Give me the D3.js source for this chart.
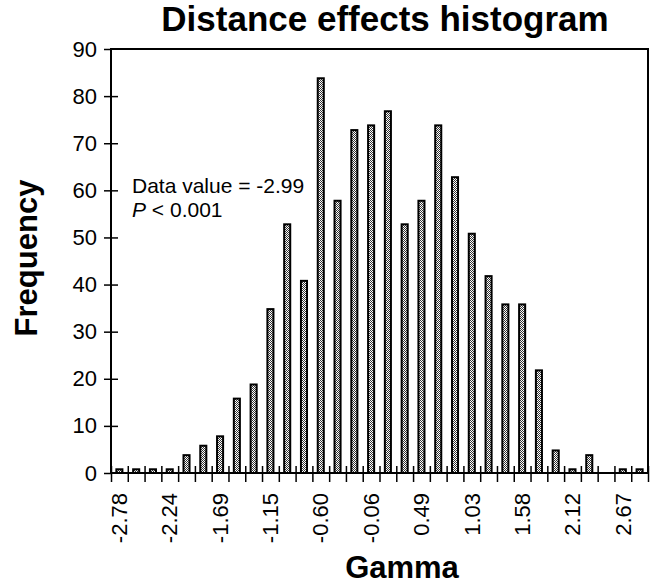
<!DOCTYPE html>
<html>
<head>
<meta charset="utf-8">
<script src="https://cdn.jsdelivr.net/npm/d3@7"></script>
<style>
  html, body { margin: 0; padding: 0; background: #fff; }
  svg text { font-family: "Liberation Sans", Arial, Helvetica, sans-serif; fill: #000; }
</style>
</head>
<body>
<svg id="chart" width="658" height="585"></svg>
<script>
// ---- data ----
const binCounts = [1,1,1,1,4,6,8,16,19,35,53,41,84,58,73,74,77,53,58,74,63,51,42,36,36,22,5,1,4,0,1,1];
const xTickLabels = ["-2.78","-2.24","-1.69","-1.15","-0.60","-0.06","0.49","1.03","1.58","2.12","2.67"];
const xTickEvery = 3;
const yTickValues = [0,10,20,30,40,50,60,70,80,90];
const titleText = "Distance effects histogram";
const xTitle = "Gamma";
const yTitle = "Frequency";
const noteLine1 = "Data value = -2.99";

// ---- layout ----
const L = 111, R = 648, T = 49, B = 473;
const svg = d3.select("#chart");

const defs = svg.append("defs");
const pat = defs.append("pattern").attr("id", "hatch")
  .attr("width", 2).attr("height", 2).attr("patternUnits", "userSpaceOnUse");
pat.append("rect").attr("width", 2).attr("height", 2).attr("fill", "#fff");
pat.append("rect").attr("x", 0).attr("y", 0).attr("width", 1).attr("height", 1).attr("fill", "#333");
pat.append("rect").attr("x", 1).attr("y", 1).attr("width", 1).attr("height", 1).attr("fill", "#333");

const idx = d3.range(binCounts.length);
const xBand = d3.scaleBand().domain(idx).range([L, R]).paddingInner(0.52).paddingOuter(0.26);
const xEdge = d3.scaleLinear().domain([0, binCounts.length]).range([L, R]);
const y = d3.scaleLinear().domain([0, 90]).range([B, T]);

// bars
svg.append("g").selectAll("rect").data(binCounts).join("rect")
  .attr("x", (d, i) => xBand(i) + 1)
  .attr("width", xBand.bandwidth() - 2)
  .attr("y", d => y(d) + 1)
  .attr("height", d => Math.max(0, y(0) - y(d) - 1))
  .attr("fill", "url(#hatch)")
  .attr("stroke", "#000")
  .attr("stroke-width", 2)
  .style("display", d => d > 0 ? null : "none");

// frame
svg.append("rect").attr("x", L).attr("y", T).attr("width", R - L).attr("height", B - T)
  .attr("fill", "none").attr("stroke", "#000").attr("stroke-width", 2);

// y axis (outer ticks with labels + inner ticks)
const yAxis = svg.append("g").attr("transform", `translate(${L},0)`)
  .call(d3.axisLeft(y).tickValues(yTickValues).tickSize(7).tickPadding(7).tickFormat(d3.format("d")));
yAxis.select(".domain").remove();
yAxis.selectAll("line").attr("stroke", "#000").attr("stroke-width", 1.5);
yAxis.selectAll("text").style("font-size", "22px");
const yAxisIn = svg.append("g").attr("transform", `translate(${L},0)`)
  .call(d3.axisRight(y).tickValues(yTickValues.filter(v => v > 0 && v < 90)).tickSize(7).tickFormat(""));
yAxisIn.select(".domain").remove();
yAxisIn.selectAll("line").attr("stroke", "#000").attr("stroke-width", 1.5);

// x axis ticks at bin edges (cross ticks)
const xAxisOut = svg.append("g").attr("transform", `translate(0,${B})`)
  .call(d3.axisBottom(xEdge).tickValues(d3.range(binCounts.length + 1)).tickSize(9).tickFormat(""));
xAxisOut.select(".domain").remove();
xAxisOut.selectAll("line").attr("stroke", "#000").attr("stroke-width", 1.5);
const xAxisIn = svg.append("g").attr("transform", `translate(0,${B})`)
  .call(d3.axisTop(xEdge).tickValues(d3.range(binCounts.length + 1)).tickSize(7).tickFormat(""));
xAxisIn.select(".domain").remove();
xAxisIn.selectAll("line").attr("stroke", "#000").attr("stroke-width", 1.5);

// x tick labels (rotated)
svg.append("g").selectAll("text").data(xTickLabels).join("text")
  .attr("transform", (d, k) => `translate(${xBand(k * xTickEvery) + xBand.bandwidth() / 2},493) rotate(-90)`)
  .attr("text-anchor", "end")
  .attr("dy", "0.35em")
  .style("font-size", "22px")
  .text(d => d);

// titles
svg.append("text").attr("x", 385).attr("y", 31).attr("text-anchor", "middle")
  .style("font-size", "35px").style("font-weight", "bold").text(titleText);
svg.append("text").attr("x", 402).attr("y", 578).attr("text-anchor", "middle")
  .style("font-size", "31px").style("font-weight", "bold").text(xTitle);
svg.append("text").attr("transform", "translate(37,258) rotate(-90)").attr("text-anchor", "middle")
  .style("font-size", "31px").style("font-weight", "bold").text(yTitle);

// annotation
svg.append("text").attr("x", 132).attr("y", 193).style("font-size", "21px").text(noteLine1);
const n2 = svg.append("text").attr("x", 132).attr("y", 217).style("font-size", "21px");
n2.append("tspan").style("font-style", "italic").text("P");
n2.append("tspan").text(" < 0.001");
</script>
</body>
</html>
